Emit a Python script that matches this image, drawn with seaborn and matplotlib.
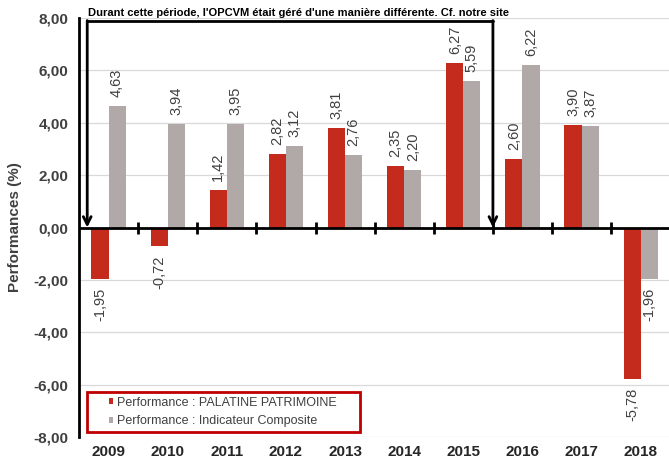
import pandas as pd
import matplotlib
matplotlib.use("Agg")
import matplotlib.pyplot as plt
from matplotlib.patches import Rectangle
import seaborn as sns

# -------------------------------
# Data
# -------------------------------
years = ["2009", "2010", "2011", "2012", "2013", "2014", "2015", "2016", "2017", "2018"]
fund = [-1.95, -0.72, 1.42, 2.82, 3.81, 2.35, 6.27, 2.60, 3.90, -5.78]
index = [4.63, 3.94, 3.95, 3.12, 2.76, 2.20, 5.59, 6.22, 3.87, -1.96]
series_names = ["Performance : PALATINE PATRIMOINE", "Performance : Indicateur Composite"]
yticks = [-8, -6, -4, -2, 0, 2, 4, 6, 8]
note = "Durant cette période, l'OPCVM était géré d'une manière différente. Cf. notre site"

df = pd.DataFrame({
    "year": years * 2,
    "value": fund + index,
    "series": [series_names[0]] * len(years) + [series_names[1]] * len(years),
})

red = "#C42B1C"
grey = "#B1A9A7"

# -------------------------------
# Style
# -------------------------------
sns.set_style("white")
plt.rcParams["font.family"] = ["Liberation Sans", "DejaVu Sans"]

fig = plt.figure(figsize=(6.69, 4.61), dpi=100)
ax = fig.add_axes([0.118, 0.052, 0.884, 0.909])

sns.barplot(data=df, x="year", y="value", hue="series", palette=[red, grey],
            width=0.58, saturation=1, linewidth=0, edgecolor="none",
            ax=ax, zorder=3)

ax.set_xlim(-0.5, len(years) - 0.5)
ax.set_ylim(-8, 8)
ax.set_yticks(yticks)
ax.set_yticklabels([f"{v:.2f}".replace(".", ",") for v in yticks],
                   fontweight="bold", fontsize=11, color="#404040")
ax.set_xticks(range(len(years)))
ax.set_xticklabels(years, fontweight="bold", fontsize=11, color="#262626")
ax.tick_params(axis="x", length=0, pad=6)
ax.tick_params(axis="y", direction="inout", length=7, width=2, color="black", pad=4)

ax.set_xlabel("")
ax.set_ylabel("Performances (%)", fontweight="bold", fontsize=11, color="#404040", labelpad=8)

# grid
for v in yticks:
    ax.axhline(v, color="#D9D9D9", lw=0.9, zorder=1)

for s in ["top", "right", "bottom"]:
    ax.spines[s].set_visible(False)
ax.spines["left"].set_color("black")
ax.spines["left"].set_linewidth(2)

# zero line with category separators
ax.axhline(0, color="black", lw=2, zorder=4)
ax.plot([i + 0.5 for i in range(len(years) - 1)], [0] * (len(years) - 1),
        ls="none", marker="|", ms=9, mew=2, color="black", zorder=4)

# value labels
for cont, vals in zip(ax.containers, [fund, index]):
    ax.bar_label(cont, labels=[f"{v:.2f}".replace(".", ",") for v in vals],
                 rotation=90, padding=6.5, fontsize=10.5, color="#404040")

# bracket annotation
xl, xr, ytop = -0.36, 6.5, 7.9
ax.plot([xl, xr], [ytop, ytop], color="black", lw=2, zorder=5)
for xx in (xl, xr):
    ax.annotate("", xy=(xx, 0), xytext=(xx, ytop),
                arrowprops=dict(arrowstyle="->", color="black", lw=2,
                                shrinkA=0, shrinkB=0, mutation_scale=14),
                zorder=5)
ax.text(xl + 0.02, ytop + 0.1, note, fontsize=8, fontweight="bold",
        color="black", va="bottom", ha="left")

# legend (frame drawn separately to get the wide side padding)
leg = ax.legend(loc="center left", bbox_to_anchor=(0.051, 0.0597), fontsize=9,
                frameon=False, handlelength=0.35, handleheight=0.35,
                handletextpad=0.3, borderpad=0, labelspacing=0.55,
                borderaxespad=0)
for t in leg.get_texts():
    t.set_color("#404040")
ax.add_patch(Rectangle((0.0136, 0.012), 0.461, 0.095, transform=ax.transAxes,
                       fill=False, edgecolor="#C00000", lw=2, zorder=6))

fig.savefig("out.png", dpi=100)
